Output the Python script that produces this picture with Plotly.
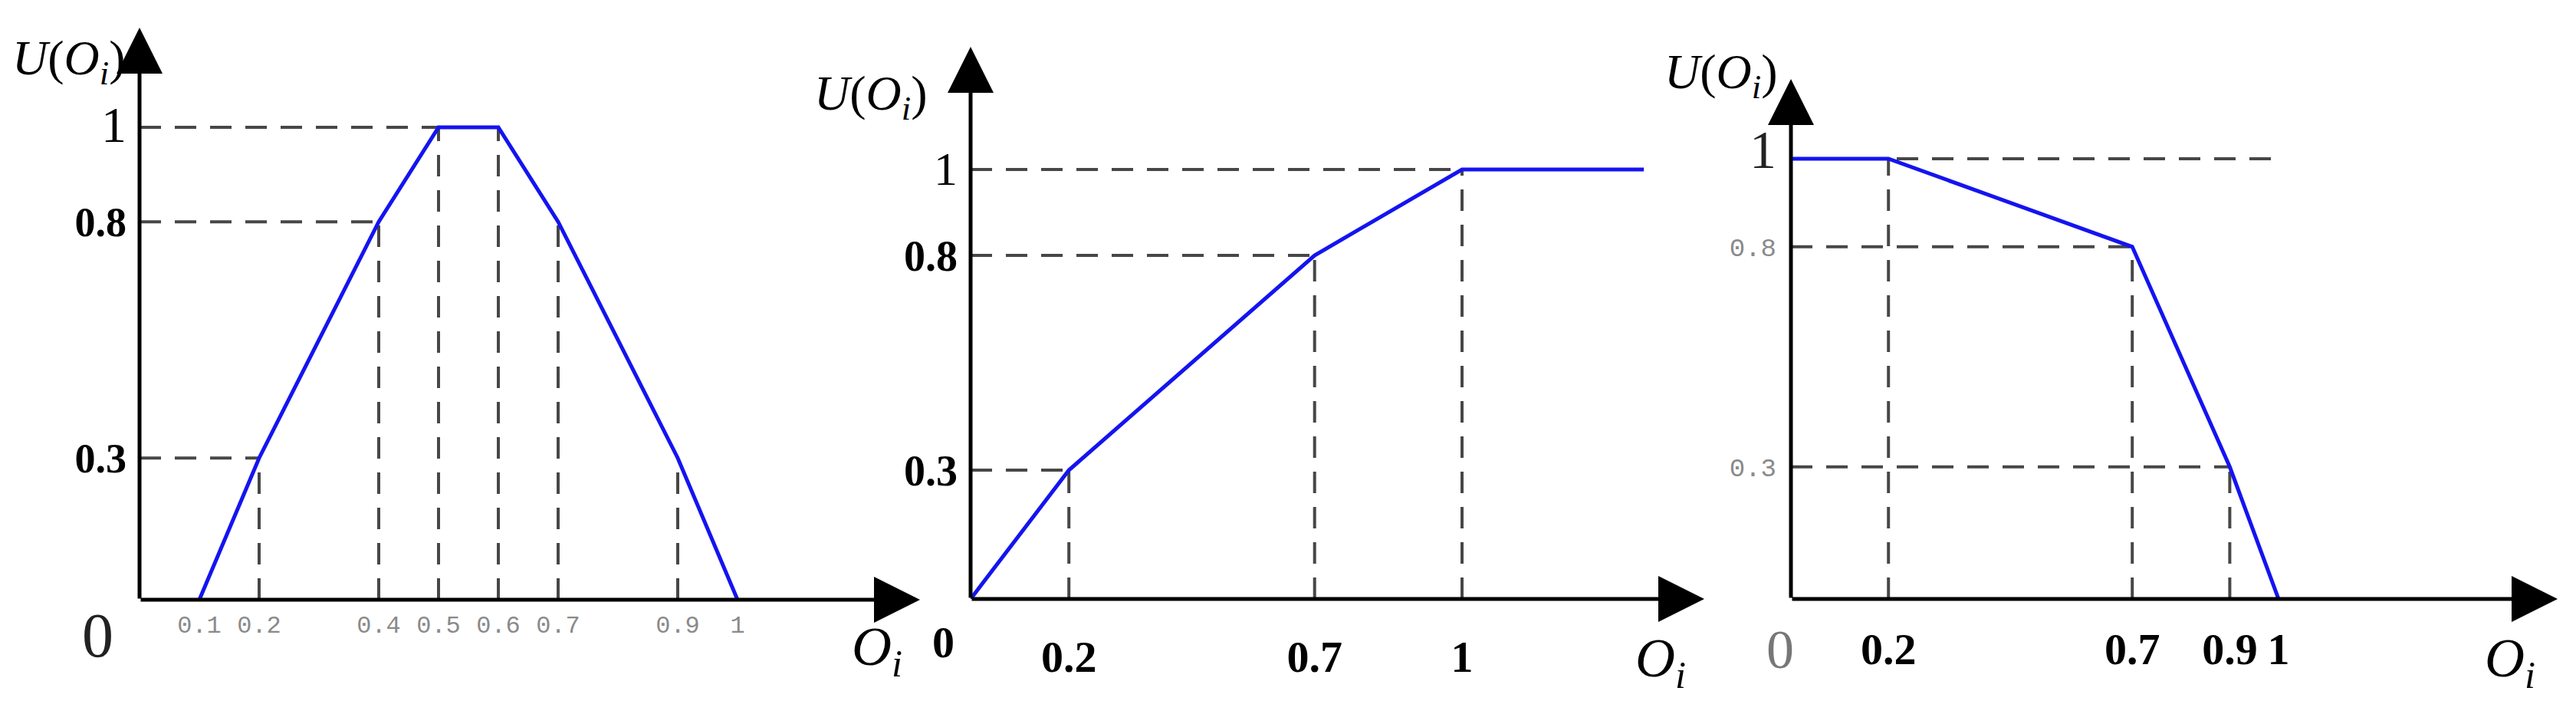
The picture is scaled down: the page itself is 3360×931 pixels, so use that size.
import plotly.graph_objects as go

W, H = 3360, 931

# ---- data ----
# panel 1: trapezoid utility
p1_x = [0.1, 0.2, 0.4, 0.5, 0.6, 0.7, 0.9, 1.0]
p1_u = [0, 0.3, 0.8, 1, 1, 0.8, 0.3, 0]
p1_hg_y = [0.3, 0.8, 1]          # horizontal dashed guides: level
p1_hg_x = [0.2, 0.4, 0.5]        # ... and where they stop
p1_vg_x = [0.2, 0.4, 0.5, 0.6, 0.7, 0.9]
p1_vg_y = [0.3, 0.8, 1, 1, 0.8, 0.3]
p1_xticks = [0.1, 0.2, 0.4, 0.5, 0.6, 0.7, 0.9, 1]
p1_xlabels = ["0.1", "0.2", "0.4", "0.5", "0.6", "0.7", "0.9", "1"]

# panel 2: increasing utility
p2_x = [0, 0.2, 0.7, 1, 1.37]
p2_u = [0, 0.3, 0.8, 1, 1]
p2_hg_y = [0.3, 0.8, 1]
p2_hg_x = [0.2, 0.7, 1]
p2_vg_x = [0.2, 0.7, 1]
p2_vg_y = [0.3, 0.8, 1]
p2_xticks = [0.2, 0.7, 1]
p2_xlabels = ["0.2", "0.7", "1"]

# panel 3: decreasing utility
p3_x = [0, 0.2, 0.7, 0.9, 1]
p3_u = [1, 1, 0.8, 0.3, 0]
p3_hg_y = [1, 0.8, 0.3]
p3_hg_x = [1.0, 0.7, 0.9]
p3_vg_x = [0.2, 0.7, 0.9]
p3_vg_y = [1, 0.8, 0.3]
p3_xticks = [0.2, 0.7, 0.9, 1]
p3_xlabels = ["0.2", "0.7", "0.9", "1"]

y_ticks = [0.3, 0.8, 1]

# ---- geometry of each panel in pixels (origin, unit length, arrow tips) ----
geo = [
    dict(ox=174, oy=774, x1=954, y1=158, xtip=1192, ytip=28),
    dict(ox=1258, oy=773, x1=1899, y1=213, xtip=2215, ytip=53),
    dict(ox=2328, oy=773, x1=2964, y1=199, xtip=3328, ytip=95),
]

BLUE = "#1414f0"
GUIDE = "#474747"
SERIF = "Liberation Serif"
MONO = "Liberation Mono"


def guide_xy(hy, hx, vx, vy):
    xs, ys = [], []
    for y, x in zip(hy, hx):
        xs += [0, x, None]
        ys += [y, y, None]
    for x, y in zip(vx, vy):
        xs += [x, x, None]
        ys += [0, y, None]
    return xs, ys


fig = go.Figure()

panels = [
    (p1_x, p1_u, p1_hg_y, p1_hg_x, p1_vg_x, p1_vg_y),
    (p2_x, p2_u, p2_hg_y, p2_hg_x, p2_vg_x, p2_vg_y),
    (p3_x, p3_u, p3_hg_y, p3_hg_x, p3_vg_x, p3_vg_y),
]

for i, (x, u, hy, hx, vx, vy) in enumerate(panels):
    ax = "" if i == 0 else str(i + 1)
    gx, gy = guide_xy(hy, hx, vx, vy)
    fig.add_trace(go.Scatter(x=gx, y=gy, mode="lines", xaxis="x" + ax, yaxis="y" + ax,
                             line=dict(color=GUIDE, width=4, dash="28px,18px"),
                             showlegend=False, hoverinfo="skip"))
    fig.add_trace(go.Scatter(x=x, y=u, mode="lines", xaxis="x" + ax, yaxis="y" + ax,
                             line=dict(color=BLUE, width=5), showlegend=False))

# ---- axes ----
xtick_fonts = [
    dict(family=MONO, size=32, color="#8a8a8a"),
    dict(family=SERIF, size=58, color="black"),
    dict(family=SERIF, size=58, color="black"),
]
xtick_vals = [p1_xticks, p2_xticks, p3_xticks]
xtick_text = [p1_xlabels,
              ["<b>" + t + "</b>" for t in p2_xlabels],
              ["<b>" + t + "</b>" for t in p3_xlabels]]
xstandoff = [10, 36, 26]

ytick_fonts = [
    dict(family=SERIF, size=54, color="black"),
    dict(family=SERIF, size=56, color="black"),
    dict(family=MONO, size=34, color="#8a8a8a"),
]
ytick_text = [
    ["<b>0.3</b>", "<b>0.8</b>", "<span style='font-size:66px'>1</span>"],
    ["<b>0.3</b>", "<b>0.8</b>", "<span style='font-size:62px'>1</span>"],
    ["0.3", "0.8",
     "<span style='font-size:70px;font-family:Liberation Serif;color:#222'>1</span>"],
]
ystandoff = [16, 16, 18]

layout_axes = {}
for i, g in enumerate(geo):
    ax = "" if i == 0 else str(i + 1)
    xmax = (g["xtip"] - g["ox"]) / (g["x1"] - g["ox"])
    ymax = (g["oy"] - g["ytip"]) / (g["oy"] - g["y1"])
    layout_axes["xaxis" + ax] = dict(
        domain=[g["ox"] / W, g["xtip"] / W], range=[0, xmax], anchor="y" + ax,
        showgrid=False, zeroline=False, showline=False, ticks="",
        tickmode="array", tickvals=xtick_vals[i], ticktext=xtick_text[i],
        tickfont=xtick_fonts[i], ticklabelstandoff=xstandoff[i], fixedrange=True)
    layout_axes["yaxis" + ax] = dict(
        domain=[1 - g["oy"] / H, 1 - g["ytip"] / H], range=[0, ymax], anchor="x" + ax,
        showgrid=False, zeroline=False, showline=False, ticks="",
        tickmode="array", tickvals=y_ticks, ticktext=ytick_text[i],
        tickfont=ytick_fonts[i], ticklabelstandoff=ystandoff[i], fixedrange=True)

fig.update_layout(**layout_axes)

# arrows for the axes
for i, g in enumerate(geo):
    ax = "" if i == 0 else str(i + 1)
    xmax = (g["xtip"] - g["ox"]) / (g["x1"] - g["ox"])
    ymax = (g["oy"] - g["ytip"]) / (g["oy"] - g["y1"])
    for tx, ty in [(xmax, 0), (0, ymax)]:
        fig.add_annotation(x=tx, y=ty, ax=0, ay=0, xref="x" + ax, yref="y" + ax,
                           axref="x" + ax, ayref="y" + ax, text="", showarrow=True,
                           arrowhead=2, arrowsize=2.4, arrowwidth=5, arrowcolor="black",
                           standoff=0, startstandoff=0)

# origin "0" labels
zero_style = [
    dict(xshift=-55, yshift=-46, font=dict(family=SERIF, size=82, color="#222")),
    dict(xshift=-36, yshift=-56, font=dict(family=SERIF, size=58, color="black")),
    dict(xshift=-14, yshift=-66, font=dict(family=SERIF, size=72, color="#777")),
]
zero_text = ["0", "<b>0</b>", "0"]
for i, zs in enumerate(zero_style):
    ax = "" if i == 0 else str(i + 1)
    fig.add_annotation(x=0, y=0, xref="x" + ax, yref="y" + ax, text=zero_text[i],
                       xanchor="center", yanchor="middle", showarrow=False, **zs)

# axis titles
u_label = "<i>U</i>(<i>O<sub>i</sub></i>)"
o_label = "<i>O<sub>i</sub></i>"
for (cx, cy) in [(82, 72), (1128, 118), (2237, 90)]:
    fig.add_annotation(x=cx / W, y=1 - cy / H, xref="paper", yref="paper", text=u_label,
                       xanchor="center", yanchor="middle", showarrow=False,
                       font=dict(family=SERIF, size=64, color="black"))
for (cx, cy) in [(1136, 840), (2158, 855), (3266, 855)]:
    fig.add_annotation(x=cx / W, y=1 - cy / H, xref="paper", yref="paper", text=o_label,
                       xanchor="center", yanchor="middle", showarrow=False,
                       font=dict(family=SERIF, size=72, color="black"))

fig.update_layout(width=W, height=H, autosize=False,
                  margin=dict(l=0, r=0, t=0, b=0),
                  paper_bgcolor="white", plot_bgcolor="white")

fig.write_html("out.html")
